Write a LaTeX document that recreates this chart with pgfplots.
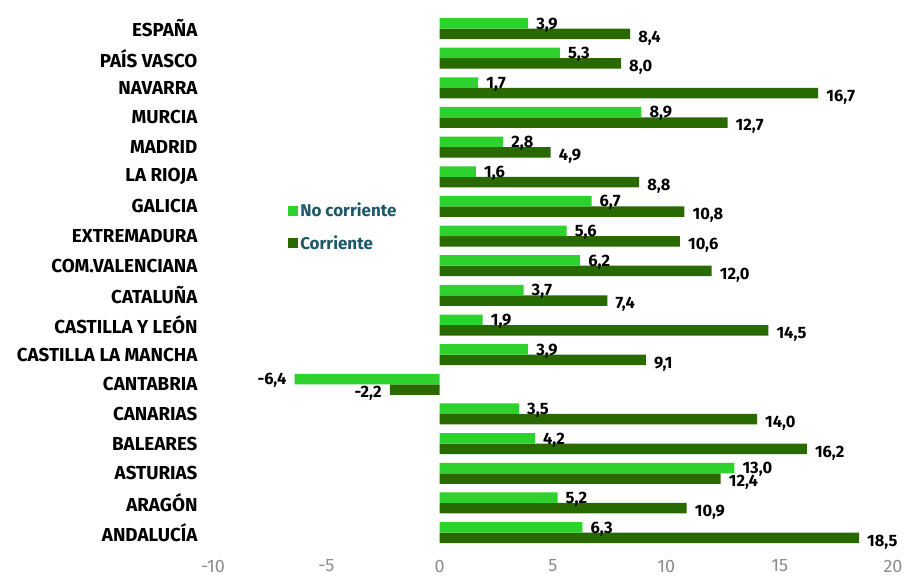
\documentclass[border=0pt]{standalone}
\usepackage{fontspec}
\setmainfont{Fira Sans}
\usepackage{pgfplots}
\pgfplotsset{compat=1.18}
\definecolor{lightg}{HTML}{2DD22D}
\definecolor{darkg}{HTML}{286A00}
\definecolor{tickgray}{HTML}{8C8C8C}
\definecolor{legtext}{HTML}{1B5868}
\begin{document}
\begin{tikzpicture}
\begin{axis}[
  scale only axis, width=680pt, height=533.7pt,
  xmin=-10, xmax=20, ymin=-0.5, ymax=17.5,
  xbar, bar width=10.5pt,
  axis line style={draw=none}, major tick length=0pt,
  xtick={-10,-5,0,5,10,15,20},
  ytick={0,...,17},
  yticklabels={ANDALUCÍA,ARAGÓN,ASTURIAS,BALEARES,CANARIAS,CANTABRIA,CASTILLA LA MANCHA,CASTILLA Y LEÓN,CATALUÑA,COM.VALENCIANA,EXTREMADURA,GALICIA,LA RIOJA,MADRID,MURCIA,NAVARRA,PAÍS VASCO,ESPAÑA},
  yticklabel style={font=\fontsize{18.8}{22}\selectfont\bfseries, text=black, xshift=-12pt},
  xticklabel style={font=\fontsize{18}{21}\selectfont, text=tickgray, yshift=-9pt},
  /pgf/number format/assume math mode=true,
  point meta=x,
  nodes near coords={\pgfmathprintnumber[fixed,fixed zerofill,precision=1,use comma,assume math mode=true]{\pgfplotspointmeta}},
  nodes near coords style={font=\fontsize{16.5}{19}\selectfont\bfseries, text=black, inner xsep=8pt},
  clip=false,
  legend style={at={(0.106,0.653)}, anchor=north west, draw=none, fill=none,
    font=\fontsize{17}{20}\selectfont\bfseries, text=legtext, row sep=13pt},
  legend cell align=left,
  legend image code/.code={\fill[#1] (0pt,-5pt) rectangle (10pt,5pt);},
  reverse legend,
]
\addplot[fill=darkg, draw=none, bar shift=-5.25pt,
  every node near coord/.append style={yshift=-4pt}] coordinates {
  (18.5,0) (10.9,1) (12.4,2) (16.2,3) (14.0,4) (-2.2,5) (9.1,6) (14.5,7) (7.4,8)
  (12.0,9) (10.6,10) (10.8,11) (8.8,12) (4.9,13) (12.7,14) (16.7,15) (8.0,16) (8.4,17)};
\addlegendentry{Corriente}
\addplot[fill=lightg, draw=none, bar shift=5.25pt,
  every node near coord/.append style={yshift=-1.5pt}] coordinates {
  (6.3,0) (5.2,1) (13.0,2) (4.2,3) (3.5,4) (-6.4,5) (3.9,6) (1.9,7) (3.7,8)
  (6.2,9) (5.6,10) (6.7,11) (1.6,12) (2.8,13) (8.9,14) (1.7,15) (5.3,16) (3.9,17)};
\addlegendentry{No corriente}
\end{axis}
\pgfresetboundingbox
\useasboundingbox (-213pt,-31.6pt) rectangle (694pt,547.4pt);
\end{tikzpicture}
\end{document}
